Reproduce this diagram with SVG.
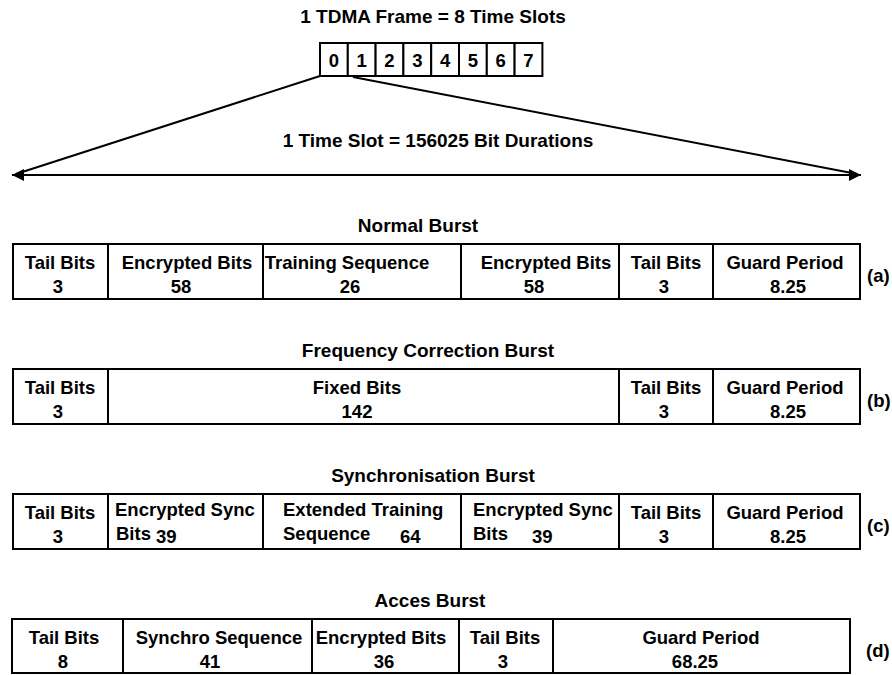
<svg xmlns="http://www.w3.org/2000/svg" width="892" height="675" viewBox="0 0 892 675">
<style>
.t{font-family:"Liberation Sans",Arial,sans-serif;font-weight:bold;font-size:18.5px;fill:#000}
.m{text-anchor:middle}
.h{font-size:19px}
.c{fill:#fff;stroke:#000;stroke-width:2}
.ln{fill:none;stroke:#000;stroke-width:2}
</style>
<defs>
<marker id="arr" markerUnits="userSpaceOnUse" markerWidth="13" markerHeight="12" refX="12" refY="6" orient="auto-start-reverse">
<path d="M0,0 L12,6 L0,12 z" fill="#000"/>
</marker>
</defs>
<rect width="892" height="675" fill="#fff"/>

<g id="frame">
<text class="t h m" x="433" y="23">1 TDMA Frame = 8 Time Slots</text>
<rect class="c" x="320" y="43" width="27.8" height="33"/>
<rect class="c" x="347.8" y="43" width="27.8" height="33"/>
<rect class="c" x="375.6" y="43" width="27.8" height="33"/>
<rect class="c" x="403.4" y="43" width="27.8" height="33"/>
<rect class="c" x="431.2" y="43" width="27.8" height="33"/>
<rect class="c" x="459" y="43" width="27.8" height="33"/>
<rect class="c" x="486.8" y="43" width="27.8" height="33"/>
<rect class="c" x="514.6" y="43" width="27.8" height="33"/>
<text class="t m" x="333.9" y="67">0</text>
<text class="t m" x="361.7" y="67">1</text>
<text class="t m" x="389.5" y="67">2</text>
<text class="t m" x="417.3" y="67">3</text>
<text class="t m" x="445.1" y="67">4</text>
<text class="t m" x="472.9" y="67">5</text>
<text class="t m" x="500.7" y="67">6</text>
<text class="t m" x="528.5" y="67">7</text>
</g>

<g id="connectors">
<line class="ln" x1="320" y1="76" x2="16" y2="174"/>
<line class="ln" x1="353" y1="77" x2="857" y2="174"/>
<line class="ln" x1="12" y1="175" x2="861" y2="175" marker-start="url(#arr)" marker-end="url(#arr)"/>
</g>

<g id="slot-label">
<text class="t h m" x="438" y="147">1 Time Slot = 156025 Bit Durations</text>
</g>

<g id="normal-burst">
<text class="t h m" x="418" y="232">Normal Burst</text>
<rect class="c" x="13" y="244" width="95" height="55"/>
<rect class="c" x="108" y="244" width="155" height="55"/>
<rect class="c" x="263" y="244" width="198" height="55"/>
<rect class="c" x="461" y="244" width="158" height="55"/>
<rect class="c" x="619" y="244" width="94" height="55"/>
<rect class="c" x="713" y="244" width="147" height="55"/>
<text class="t m" x="60" y="269">Tail Bits</text><text class="t m" x="58" y="293">3</text>
<text class="t m" x="187" y="269">Encrypted Bits</text><text class="t m" x="181" y="293">58</text>
<text class="t m" x="347" y="269">Training Sequence</text><text class="t m" x="350" y="293">26</text>
<text class="t m" x="546" y="269">Encrypted Bits</text><text class="t m" x="534" y="293">58</text>
<text class="t m" x="666" y="269">Tail Bits</text><text class="t m" x="664" y="293">3</text>
<text class="t m" x="785" y="269">Guard Period</text><text class="t m" x="788" y="293">8.25</text>
<text class="t" x="867" y="282">(a)</text>
</g>

<g id="frequency-correction-burst">
<text class="t h m" x="428" y="357">Frequency Correction Burst</text>
<rect class="c" x="13" y="369" width="95" height="55"/>
<rect class="c" x="108" y="369" width="511" height="55"/>
<rect class="c" x="619" y="369" width="94" height="55"/>
<rect class="c" x="713" y="369" width="147" height="55"/>
<text class="t m" x="60" y="394">Tail Bits</text><text class="t m" x="58" y="418">3</text>
<text class="t m" x="357" y="394">Fixed Bits</text><text class="t m" x="357" y="418">142</text>
<text class="t m" x="666" y="394">Tail Bits</text><text class="t m" x="664" y="418">3</text>
<text class="t m" x="785" y="394">Guard Period</text><text class="t m" x="788" y="418">8.25</text>
<text class="t" x="867" y="407">(b)</text>
</g>

<g id="synchronisation-burst">
<text class="t h m" x="433" y="482">Synchronisation Burst</text>
<rect class="c" x="13" y="494" width="95" height="55"/>
<rect class="c" x="108" y="494" width="155" height="55"/>
<rect class="c" x="263" y="494" width="198" height="55"/>
<rect class="c" x="461" y="494" width="158" height="55"/>
<rect class="c" x="619" y="494" width="94" height="55"/>
<rect class="c" x="713" y="494" width="147" height="55"/>
<text class="t m" x="60" y="519">Tail Bits</text><text class="t m" x="58" y="543">3</text>
<text class="t" x="115" y="516">Encrypted Sync</text><text class="t" x="116" y="540">Bits</text><text class="t" x="156" y="543">39</text>
<text class="t" x="283" y="516">Extended Training</text><text class="t" x="283" y="540">Sequence</text><text class="t" x="400" y="543">64</text>
<text class="t" x="473" y="516">Encrypted Sync</text><text class="t" x="473" y="540">Bits</text><text class="t" x="532" y="543">39</text>
<text class="t m" x="666" y="519">Tail Bits</text><text class="t m" x="664" y="543">3</text>
<text class="t m" x="785" y="519">Guard Period</text><text class="t m" x="788" y="543">8.25</text>
<text class="t" x="867" y="532">(c)</text>
</g>

<g id="access-burst">
<text class="t h m" x="430" y="607">Acces Burst</text>
<rect class="c" x="12" y="619" width="111" height="54"/>
<rect class="c" x="123" y="619" width="189" height="54"/>
<rect class="c" x="312" y="619" width="147" height="54"/>
<rect class="c" x="459" y="619" width="94" height="54"/>
<rect class="c" x="553" y="619" width="297" height="54"/>
<text class="t m" x="64" y="644">Tail Bits</text><text class="t m" x="63" y="668">8</text>
<text class="t m" x="219" y="644">Synchro Sequence</text><text class="t m" x="210" y="668">41</text>
<text class="t m" x="381" y="644">Encrypted Bits</text><text class="t m" x="384" y="668">36</text>
<text class="t m" x="505" y="644">Tail Bits</text><text class="t m" x="503" y="668">3</text>
<text class="t m" x="701" y="644">Guard Period</text><text class="t m" x="695" y="668">68.25</text>
<text class="t" x="866" y="657">(d)</text>
</g>
</svg>
